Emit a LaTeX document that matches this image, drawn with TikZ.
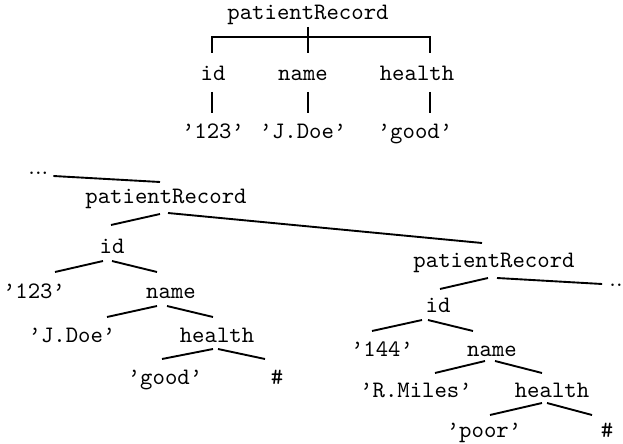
\documentclass[tikz,border=0pt]{standalone}
\usetikzlibrary{calc}
\begin{document}
\begin{tikzpicture}[x=0.4237pt,y=-0.4237pt,
  t/.style={font=\ttfamily, inner sep=0pt, text height=6.5pt, text depth=2pt, anchor=center},
  dots/.style={inner sep=0pt, anchor=base west},
  edge/.style={line width=0.8pt}]
\useasboundingbox (0,0) rectangle (623,444);
% top tree
\node[t] (tpr) at (308,14) {patientRecord};
\node[t] (tid) at (213,75) {id};
\node[t] (tname) at (303,75) {name};
\node[t] (thealth) at (417,75) {health};
\node[t] (tv1) at (213,133) {’123’};
\node[t] (tv2) at (303,133) {’J.Doe’};
\node[t] (tv3) at (415,133) {’good’};
\draw[edge] ($(tpr)+(0,13)$) -- ($(tname)+(5,-22)$);
\draw[edge] ($(tid)+(-1,-22)$) |- ($(thealth)+(13,-38)$) -- ($(thealth)+(13,-22)$);
\draw[edge] ($(tid)+(-1,17)$) -- ($(tv1)+(-1,-20)$);
\draw[edge] ($(tname)+(5,17)$) -- ($(tv2)+(5,-20)$);
\draw[edge] ($(thealth)+(13,17)$) -- ($(tv3)+(15,-20)$);
% bottom left tree
\node[dots] (dotsL) at (28,175) {...};
\node[t] (pr2) at (166,198) {patientRecord};
\node[t] (id2) at (112,248) {id};
\node[t] (v123) at (34,293) {’123’};
\node[t] (name2) at (171,293) {name};
\node[t] (jdoe) at (72,337) {’J.Doe’};
\node[t] (health2) at (217,337) {health};
\node[t] (good) at (165,379) {’good’};
\node[t] (hash1) at (277,379) {\#};
% right tree
\node[t] (pr3) at (494,262) {patientRecord};
\node[dots] (dotsR) at (609,287) {..};
\node[t] (id3) at (438,307) {id};
\node[t] (v144) at (382,351) {’144’};
\node[t] (name3) at (492,351) {name};
\node[t] (rmiles) at (416,392) {’R.Miles’};
\node[t] (health3) at (552,392) {health};
\node[t] (poor) at (484,432) {’poor’};
\node[t] (hash2) at (607,432) {\#};
% left edges
\draw[edge] ($(dotsL.base)+(15,1)$) -- ($(pr2)+(-6,-16)$);
\draw[edge] ($(pr2)+(-6,16)$) -- ($(id2)+(-1,-23)$);
\draw[edge] ($(pr2)+(2,15)$) -- ($(pr3)+(-12,-19)$);
\draw[edge] ($(id2)+(-9,13)$) -- ($(v123)+(21,-21)$);
\draw[edge] ($(id2)+(0,13)$) -- ($(name2)+(-14,-21)$);
\draw[edge] ($(name2)+(-14,13)$) -- ($(jdoe)+(35,-20)$);
\draw[edge] ($(name2)+(-4,13)$) -- ($(health2)+(-4,-20)$);
\draw[edge] ($(health2)+(-4,12)$) -- ($(good)+(-3,-20)$);
\draw[edge] ($(health2)+(1,12)$) -- ($(hash1)+(-12,-20)$);
% right edges
\draw[edge] ($(pr3)+(-6,16)$) -- ($(id3)+(2,-18)$);
\draw[edge] ($(pr3)+(3,16)$) -- ($(dotsR.base)+(-14,-3)$);
\draw[edge] ($(id3)+(-16,13)$) -- ($(v144)+(-10,-20)$);
\draw[edge] ($(id3)+(-10,13)$) -- ($(name3)+(-19,-20)$);
\draw[edge] ($(name3)+(-7,10)$) -- ($(rmiles)+(19,-19)$);
\draw[edge] ($(name3)+(3,10)$) -- ($(health3)+(-10,-19)$);
\draw[edge] ($(health3)+(-10,11)$) -- ($(poor)+(6,-17)$);
\draw[edge] ($(health3)+(-5,11)$) -- ($(hash2)+(-15,-17)$);
\end{tikzpicture}
\end{document}
